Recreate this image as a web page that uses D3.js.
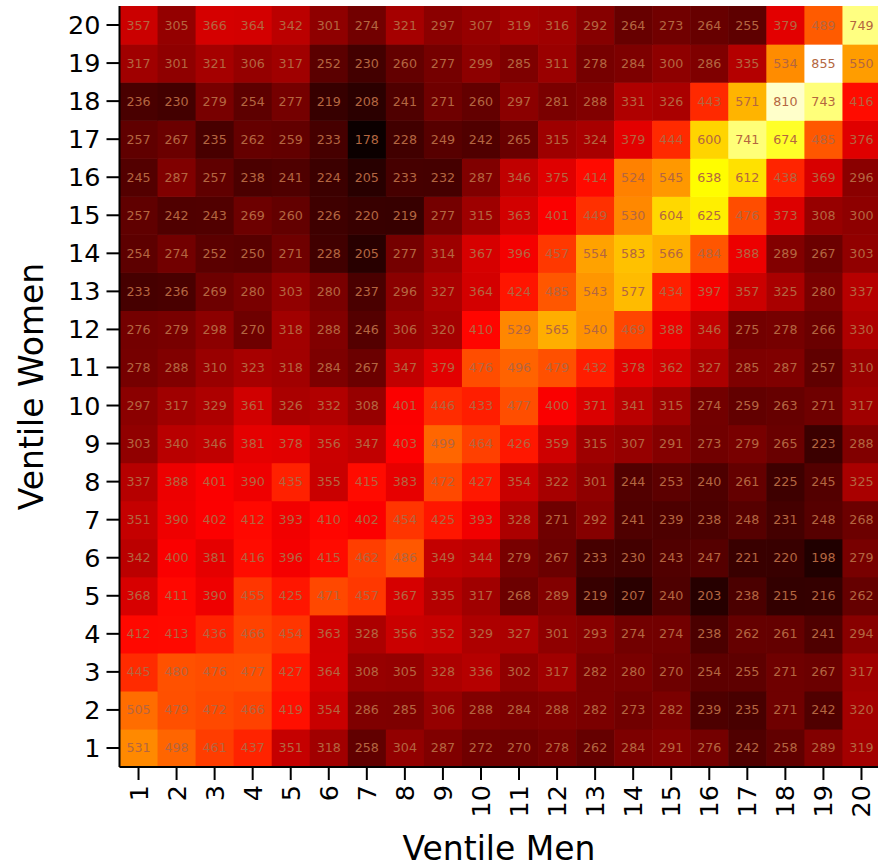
<!DOCTYPE html>
<html>
<head>
<meta charset="utf-8">
<script src="https://cdn.jsdelivr.net/npm/d3@7"></script>
<style>
  html, body { margin: 0; padding: 0; background: #ffffff; }
  svg { display: block; }
  text { font-family: "DejaVu Sans", sans-serif; }
</style>
</head>
<body>
<svg id="chart" width="878" height="867"></svg>
<script>
// Ventile categories (1..20)
const menVentiles = d3.range(1, 21);    // x categories
const womenVentiles = d3.range(1, 21);  // y categories

// Tick labels
const xTickLabels = menVentiles.map(String);
const yTickLabels = womenVentiles.map(String);

// Values per row, rows from women ventile 20 (top) down to 1 (bottom); columns men ventile 1..20
const row20 = [357,305,366,364,342,301,274,321,297,307,319,316,292,264,273,264,255,379,489,749];
const row19 = [317,301,321,306,317,252,230,260,277,299,285,311,278,284,300,286,335,534,855,550];
const row18 = [236,230,279,254,277,219,208,241,271,260,297,281,288,331,326,443,571,810,743,416];
const row17 = [257,267,235,262,259,233,178,228,249,242,265,315,324,379,444,600,741,674,485,376];
const row16 = [245,287,257,238,241,224,205,233,232,287,346,375,414,524,545,638,612,438,369,296];
const row15 = [257,242,243,269,260,226,220,219,277,315,363,401,449,530,604,625,476,373,308,300];
const row14 = [254,274,252,250,271,228,205,277,314,367,396,457,554,583,566,484,388,289,267,303];
const row13 = [233,236,269,280,303,280,237,296,327,364,424,485,543,577,434,397,357,325,280,337];
const row12 = [276,279,298,270,318,288,246,306,320,410,529,565,540,469,388,346,275,278,266,330];
const row11 = [278,288,310,323,318,284,267,347,379,476,496,479,432,378,362,327,285,287,257,310];
const row10 = [297,317,329,361,326,332,308,401,446,433,477,400,371,341,315,274,259,263,271,317];
const row9  = [303,340,346,381,378,356,347,403,499,464,426,359,315,307,291,273,279,265,223,288];
const row8  = [337,388,401,390,435,355,415,383,472,427,354,322,301,244,253,240,261,225,245,325];
const row7  = [351,390,402,412,393,410,402,454,425,393,328,271,292,241,239,238,248,231,248,268];
const row6  = [342,400,381,416,396,415,462,486,349,344,279,267,233,230,243,247,221,220,198,279];
const row5  = [368,411,390,455,425,471,457,367,335,317,268,289,219,207,240,203,238,215,216,262];
const row4  = [412,413,436,466,454,363,328,356,352,329,327,301,293,274,274,238,262,261,241,294];
const row3  = [445,480,476,477,427,364,308,305,328,336,302,317,282,280,270,254,255,271,267,317];
const row2  = [505,479,472,466,419,354,286,285,306,288,284,288,282,273,282,239,235,271,242,320];
const row1  = [531,498,461,437,351,318,258,304,287,272,270,278,262,284,291,276,242,258,289,319];

const rowsByWomen = {1:row1,2:row2,3:row3,4:row4,5:row5,6:row6,7:row7,8:row8,9:row9,10:row10,
  11:row11,12:row12,13:row13,14:row14,15:row15,16:row16,17:row17,18:row18,19:row19,20:row20};

// Build cell table
const cells = [];
womenVentiles.forEach(w => {
  menVentiles.forEach((m, i) => {
    cells.push({ men: m, women: w, value: rowsByWomen[w][i] });
  });
});

// Layout
const svg = d3.select("#chart");
const plotLeft = 119.5, plotTop = 6, cellSize = 38.05;
const plotRight = plotLeft + cellSize * 20, plotBottom = plotTop + cellSize * 20;

const x = d3.scaleBand().domain(menVentiles).range([plotLeft, plotRight]).padding(0);
const y = d3.scaleBand().domain(womenVentiles.slice().reverse()).range([plotTop, plotBottom]).padding(0);

// "hot" colormap (black -> red -> yellow -> white)
const vmin = d3.min(cells, d => d.value), vmax = d3.max(cells, d => d.value);
const norm = d3.scaleLinear().domain([vmin, 405, 640, vmax]).range([0, 0.365079, 0.746032, 1]).clamp(true);
const hot = d3.scaleLinear().domain([0, 0.365079, 0.746032, 1])
  .range(["#0b0000", "#ff0000", "#ffff00", "#ffffff"]).interpolate(d3.interpolateRgb);
const color = v => hot(norm(v));

// Cells
svg.append("g").selectAll("rect").data(cells).join("rect")
  .attr("x", d => x(d.men))
  .attr("y", d => y(d.women))
  .attr("width", x.bandwidth() + 0.6)
  .attr("height", y.bandwidth() + 0.6)
  .attr("fill", d => color(d.value));

// Cell labels
svg.append("g").selectAll("text").data(cells).join("text")
  .attr("x", d => x(d.men) + x.bandwidth() / 2)
  .attr("y", d => y(d.women) + y.bandwidth() / 2)
  .attr("text-anchor", "middle")
  .attr("dominant-baseline", "central")
  .attr("font-size", "12.7px")
  .attr("fill", "rgb(180,102,64)")
  .text(d => d.value);

// Axes
const xAxis = d3.axisBottom(x).tickSize(13).tickPadding(5).tickFormat((d, i) => xTickLabels[i]);
const yAxis = d3.axisLeft(y).tickSize(13).tickPadding(6).tickFormat(d => yTickLabels[d - 1]);

const gx = svg.append("g").attr("transform", `translate(0,${plotBottom})`).call(xAxis);
gx.select(".domain").attr("stroke", "#000").attr("stroke-width", 2).attr("d", `M${plotLeft},0H${plotRight}`);
gx.selectAll(".tick line").attr("stroke", "#000").attr("stroke-width", 2);
gx.selectAll(".tick text")
  .attr("font-size", "25.5px")
  .attr("font-family", "DejaVu Sans, sans-serif")
  .attr("fill", "#000")
  .attr("text-anchor", "end")
  .attr("dy", null)
  .attr("dominant-baseline", "central")
  .attr("transform", "translate(0,18) rotate(-90)")
  .attr("x", 0).attr("y", 0);

const gy = svg.append("g").attr("transform", `translate(${plotLeft},0)`).call(yAxis);
gy.select(".domain").attr("stroke", "#000").attr("stroke-width", 2).attr("d", `M0,${plotTop}V${plotBottom}`);
gy.selectAll(".tick line").attr("stroke", "#000").attr("stroke-width", 2);
gy.selectAll(".tick text")
  .attr("font-size", "25.5px")
  .attr("font-family", "DejaVu Sans, sans-serif")
  .attr("fill", "#000")
  .attr("dy", null)
  .attr("dominant-baseline", "central");

// Axis titles
svg.append("text")
  .attr("x", (plotLeft + plotRight) / 2 - 1)
  .attr("y", 860)
  .attr("text-anchor", "middle")
  .attr("font-size", "33px")
  .attr("fill", "#000")
  .text("Ventile Men");

svg.append("text")
  .attr("transform", `translate(43,${(plotTop + plotBottom) / 2}) rotate(-90)`)
  .attr("text-anchor", "middle")
  .attr("font-size", "33px")
  .attr("fill", "#000")
  .text("Ventile Women");
</script>
</body>
</html>
